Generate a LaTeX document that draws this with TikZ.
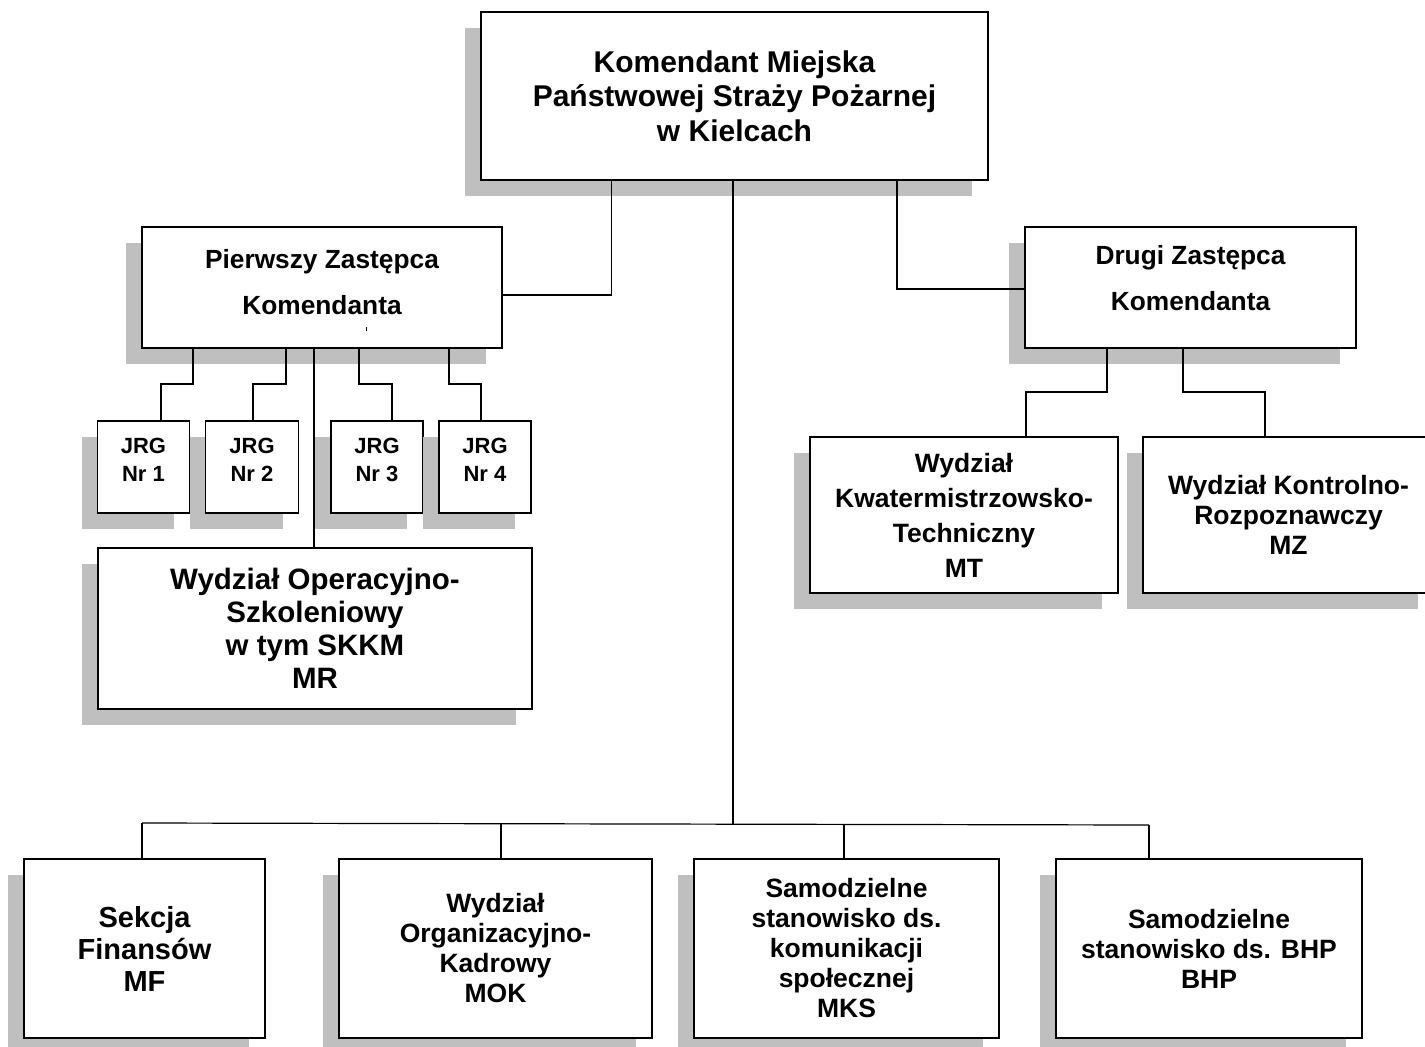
\documentclass[tikz,border=0pt]{standalone}
\usepackage{fontspec}
\setmainfont{Liberation Sans}
\usetikzlibrary{shadows}
\definecolor{shadegray}{HTML}{BFBFBF}
\tikzset{
  orgbox/.style={draw=black, line width=1.5pt, fill=white, rectangle, inner sep=0pt, align=center,
    drop shadow={shadow xshift=-16pt, shadow yshift=-16pt, fill=shadegray, opacity=1}},
  link/.style={draw=black, line width=1.2pt},
  fA/.style={font=\bfseries\fontsize{30}{34.5}\selectfont},
  fB/.style={font=\bfseries\fontsize{26.3}{46}\selectfont},
  fJ/.style={font=\bfseries\fontsize{22}{28}\selectfont},
  fC/.style={font=\bfseries\fontsize{29.5}{33}\selectfont},
  fD/.style={font=\bfseries\fontsize{26.5}{30}\selectfont},
  fE/.style={font=\bfseries\fontsize{26.5}{35}\selectfont},
  fS/.style={font=\bfseries\fontsize{29}{32}\selectfont},
}
\begin{document}
\begin{tikzpicture}[x=1pt, y=-1pt]
\useasboundingbox (0,0) rectangle (1425,1047);
% main box
\node[orgbox, fA, minimum width=507pt, minimum height=168pt] (top) at (734.5,96)
  {Komendant Miejska\\Państwowej Straży Pożarnej\\w Kielcach};
% deputies
\node[orgbox, fB, minimum width=360pt, minimum height=121pt, text depth=12pt] (p1) at (322,287.5)
  {Pierwszy Zastępca\\Komendanta};
\node[orgbox, fB, minimum width=331pt, minimum height=121pt, text depth=20pt] (p2) at (1190.5,287.5)
  {Drugi Zastępca\\Komendanta};
% JRG
\node[orgbox, fJ, minimum width=92pt, minimum height=92pt, text depth=14pt] (j1) at (143.5,467) {JRG\\Nr 1};
\node[orgbox, fJ, minimum width=93pt, minimum height=92pt, text depth=14pt] (j2) at (252,467) {JRG\\Nr 2};
\node[orgbox, fJ, minimum width=92pt, minimum height=92pt, text depth=14pt] (j3) at (377,467) {JRG\\Nr 3};
\node[orgbox, fJ, minimum width=92pt, minimum height=92pt, text depth=14pt] (j4) at (485,467) {JRG\\Nr 4};
% Operacyjno
\node[orgbox, fC, minimum width=434pt, minimum height=161pt] (mr) at (315,628.5)
  {Wydział Operacyjno-\\Szkoleniowy\\w tym SKKM\\MR};
% right departments
\node[orgbox, fE, minimum width=308pt, minimum height=156pt] (mt) at (964,515)
  {Wydział\\Kwatermistrzowsko-\\Techniczny\\MT};
\node[orgbox, fD, minimum width=291pt, minimum height=156pt] (mz) at (1288.5,515)
  {Wydział Kontrolno-\\Rozpoznawczy\\MZ};
% bottom row
\node[orgbox, fS, minimum width=241pt, minimum height=179pt] (mf) at (144.5,948.5)
  {Sekcja\\Finansów\\MF};
\node[orgbox, fD, minimum width=313pt, minimum height=179pt] (mok) at (495.5,948.5)
  {Wydział\\Organizacyjno-\\Kadrowy\\MOK};
\node[orgbox, fD, minimum width=305pt, minimum height=179pt] (mks) at (846.5,948.5)
  {Samodzielne\\stanowisko ds.\\komunikacji\\społecznej\\MKS};
\node[orgbox, fD, minimum width=306pt, minimum height=179pt] (bhp) at (1209,948.5)
  {Samodzielne\\stanowisko ds. BHP\\BHP};
% tiny mark inside first deputy box
\draw[line width=0.8pt] (366,327) -- (366,331);
% connectors from main box
\coordinate (busL) at (142,823);
\coordinate (busR) at (1149,825);
\draw[link] (611.5,0 |- top.south) |- (p1.east |- 0,295);
\draw[link] (897,0 |- top.south) |- (p2.west |- 0,289);
\draw[link] (733,0 |- top.south) -- (733,824);
\draw[link] (busL) -- (busR);
\draw[link] (busL) -- (142,0 |- mf.north);
\draw[link] (501,823.5) -- (501,0 |- mok.north);
\draw[link] (844,824.5) -- (844,0 |- mks.north);
\draw[link] (busR) -- (1149,0 |- bhp.north);
% first deputy to JRG and MR
\draw[link] (193,0 |- p1.south) |- (161,384) -- (161,0 |- j1.north);
\draw[link] (286,0 |- p1.south) |- (253,384) -- (253,0 |- j2.north);
\draw[link] (359,0 |- p1.south) |- (392,384) -- (392,0 |- j3.north);
\draw[link] (449,0 |- p1.south) |- (481,384) -- (481,0 |- j4.north);
\draw[link] (314,0 |- p1.south) -- (314,0 |- mr.north);
% second deputy to MT, MZ
\draw[link] (1107,0 |- p2.south) |- (1026,392) -- (1026,0 |- mt.north);
\draw[link] (1183,0 |- p2.south) |- (1265,392) -- (1265,0 |- mz.north);
\end{tikzpicture}
\end{document}
